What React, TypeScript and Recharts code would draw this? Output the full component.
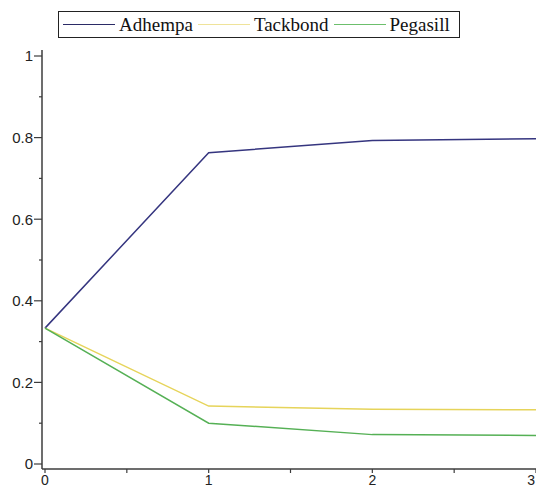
import React from "react";
import { LineChart, Line, XAxis, YAxis } from "recharts";

// bonding step on x, share on y
const steps = [0, 1, 2, 3];
const adhempa = [0.333, 0.763, 0.793, 0.797];
const tackbond = [0.333, 0.142, 0.134, 0.133];
const pegasill = [0.333, 0.1, 0.072, 0.07];

const xTicks = [0, 0.5, 1, 1.5, 2, 2.5, 3];
const yTicks = [0, 0.1, 0.2, 0.3, 0.4, 0.5, 0.6, 0.7, 0.8, 0.9, 1];

const series = [
  { key: "Adhempa", color: "#35357f", legend: "#2b2b66" },
  { key: "Tackbond", color: "#e6d45a", legend: "#efe39a" },
  { key: "Pegasill", color: "#55b055", legend: "#6cbf6c" },
];

const data = steps.map((s, i) => ({
  step: s,
  Adhempa: adhempa[i],
  Tackbond: tackbond[i],
  Pegasill: pegasill[i],
}));

const AXIS = "#3c3c3c";
const tickFont = { fontFamily: "'Liberation Sans', Arial, sans-serif", fontSize: 15, fill: "#222" };

const YTick = (props: any) => {
  const { x, y, payload } = props;
  const v = payload.value as number;
  const major = Math.round(v * 10) % 2 === 0;
  const label = v === 0 ? "0" : v === 1 ? "1" : v.toFixed(1);
  return (
    <g>
      <line x1={x - (major ? 8 : 3)} x2={x} y1={y} y2={y} stroke={AXIS} strokeWidth={1.2} />
      {major && (
        <text x={x - 9} y={y} dy="0.36em" textAnchor="end" {...tickFont}>
          {label}
        </text>
      )}
    </g>
  );
};

const XTick = (props: any) => {
  const { x, y, payload } = props;
  const v = payload.value as number;
  const major = Number.isInteger(v);
  // last label sits on the right edge, keep it inside
  const last = v === xTicks[xTicks.length - 1];
  return (
    <g>
      <line x1={x} x2={x} y1={y} y2={y + 4} stroke={AXIS} strokeWidth={1.2} />
      {major && (
        <text x={last ? x - 1 : x} y={y + 16} textAnchor={last ? "end" : "middle"} {...tickFont} fontSize={14}>
          {v}
        </text>
      )}
    </g>
  );
};

const LegendBox = () => (
  <div
    style={{
      position: "absolute",
      left: 58,
      top: 11,
      height: 25,
      border: "1px solid #222",
      display: "flex",
      alignItems: "center",
      padding: "0 4px 0 4px",
      background: "#fff",
      fontFamily: "'Liberation Serif', 'Times New Roman', serif",
      fontSize: 19,
      color: "#111",
      whiteSpace: "nowrap",
    }}
  >
    {series.map((s) => (
      <div key={s.key} style={{ display: "flex", alignItems: "center" }}>
        <div style={{ width: 52, height: 0, borderTop: `1.5px solid ${s.legend}`, marginRight: 4 }} />
        <span style={{ marginRight: 5, lineHeight: "25px" }}>{s.key}</span>
      </div>
    ))}
  </div>
);

export default function App() {
  return (
    <div style={{ position: "absolute", left: 0, top: 0, width: 536, height: 489, overflow: "hidden", background: "#fff" }}>
      <LineChart width={536} height={489} data={data} margin={{ top: 50, right: 0, bottom: 0, left: 0 }}>
        <XAxis
          dataKey="step"
          type="number"
          domain={[0, 3]}
          ticks={xTicks}
          padding={{ left: 3, right: 0 }}
          height={20}
          tickSize={0}
          tickMargin={0}
          tick={<XTick />}
          interval={0}
          axisLine={{ stroke: AXIS, strokeWidth: 1.5 }}
          tickLine={false}
        />
        <XAxis
          xAxisId="top"
          orientation="top"
          height={0}
          tick={false}
          tickLine={false}
          axisLine={{ stroke: AXIS, strokeWidth: 1.5 }}
        />
        <YAxis
          type="number"
          domain={[0, 1]}
          ticks={yTicks}
          padding={{ top: 6, bottom: 5 }}
          width={42}
          tickSize={0}
          tickMargin={0}
          tick={<YTick />}
          interval={0}
          axisLine={{ stroke: AXIS, strokeWidth: 1.5 }}
          tickLine={false}
        />
        {series.map((s) => (
          <Line
            key={s.key}
            dataKey={s.key}
            type="linear"
            stroke={s.color}
            strokeWidth={1.5}
            dot={false}
            isAnimationActive={false}
          />
        ))}
      </LineChart>
      <LegendBox />
    </div>
  );
}
